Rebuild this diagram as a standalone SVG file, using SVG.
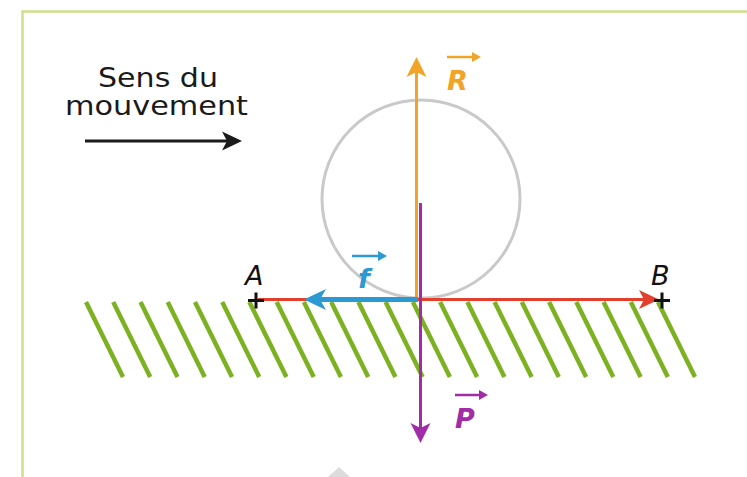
<svg xmlns="http://www.w3.org/2000/svg" width="747" height="477" viewBox="0 0 747 477">
<style>
.lbl{font-family:"DejaVu Sans","Liberation Sans",sans-serif;font-style:oblique;font-size:27px}
.hatch line{stroke:#7cb221;stroke-width:4.5}
.cap{font-family:"DejaVu Sans","Liberation Sans",sans-serif;font-size:27px;fill:#1a1a1a}
</style>
<rect width="747" height="477" fill="#ffffff"/>
<path d="M22.5 477 V11.5 H747" fill="none" stroke="#cfe08a" stroke-width="2.5"/>
<g id="hatching" class="hatch"><line x1="86" y1="302" x2="123" y2="377"/><line x1="113.2" y1="302" x2="150.2" y2="377"/><line x1="140.5" y1="302" x2="177.5" y2="377"/><line x1="167.7" y1="302" x2="204.7" y2="377"/><line x1="195" y1="302" x2="232" y2="377"/><line x1="222.2" y1="302" x2="259.2" y2="377"/><line x1="249.4" y1="302" x2="286.4" y2="377"/><line x1="276.7" y1="302" x2="313.7" y2="377"/><line x1="303.9" y1="302" x2="340.9" y2="377"/><line x1="331.2" y1="302" x2="368.2" y2="377"/><line x1="358.4" y1="302" x2="395.4" y2="377"/><line x1="385.6" y1="302" x2="422.6" y2="377"/><line x1="412.9" y1="302" x2="449.9" y2="377"/><line x1="440.1" y1="302" x2="477.1" y2="377"/><line x1="467.4" y1="302" x2="504.4" y2="377"/><line x1="494.6" y1="302" x2="531.6" y2="377"/><line x1="521.8" y1="302" x2="558.8" y2="377"/><line x1="549.1" y1="302" x2="586.1" y2="377"/><line x1="576.3" y1="302" x2="613.3" y2="377"/><line x1="603.6" y1="302" x2="640.6" y2="377"/><line x1="630.8" y1="302" x2="667.8" y2="377"/><line x1="658" y1="302" x2="695" y2="377"/></g>
<g id="wheel"><circle cx="421" cy="199" r="99" fill="none" stroke="#c9c9c9" stroke-width="3"/></g>
<g id="motion">
<text class="cap" x="98" y="87" textLength="120" lengthAdjust="spacingAndGlyphs">Sens du</text>
<text class="cap" x="65" y="115" textLength="183" lengthAdjust="spacingAndGlyphs">mouvement</text>
<line x1="85" y1="141" x2="230" y2="141" stroke="#1a1a1a" stroke-width="3"/>
<path d="M242 141 L222 131.5 L227 141 L222 150.5 Z" fill="#1a1a1a"/>
</g>
<g id="connectors">
<line x1="258" y1="299.5" x2="648" y2="299.5" stroke="#e2402c" stroke-width="3"/>
<path d="M659 299.5 L639 290 L644 299.5 L639 309 Z" fill="#e2402c"/>
<line x1="416.5" y1="70" x2="416.5" y2="299" stroke="#f2a427" stroke-width="3"/>
<path d="M416.5 57 L406.5 77 L416.5 72 L426.5 77 Z" fill="#f2a427"/>
<line x1="420.5" y1="203" x2="420.5" y2="430" stroke="#a22ba8" stroke-width="3"/>
<path d="M420.5 443 L410.5 423 L420.5 428 L430.5 423 Z" fill="#a22ba8"/>
<line x1="418" y1="299.5" x2="318" y2="299.5" stroke="#2b9ad2" stroke-width="5"/>
<path d="M304 299.5 L326 289 L320 299.5 L326 310 Z" fill="#2b9ad2"/>
</g>
<g id="A"><path d="M248 300.5 H264 M256 292.5 V308.5" stroke="#111" stroke-width="3"/><text class="lbl" x="245" y="285" fill="#111">A</text></g>
<g id="B"><path d="M654 300.5 H670 M662 292.5 V308.5" stroke="#111" stroke-width="3"/><text class="lbl" x="651" y="285" fill="#111">B</text></g>
<g id="R"><text class="lbl" x="447" y="90" fill="#f2a427" font-weight="bold">R</text><line x1="447" y1="57" x2="474" y2="57" stroke="#f2a427" stroke-width="2.5"/><path d="M481 57 L472 52 L472 62 Z" fill="#f2a427"/></g>
<g id="f"><text class="lbl" x="358" y="288" fill="#2b9ad2" font-weight="bold">f</text><line x1="352" y1="256" x2="380" y2="256" stroke="#2b9ad2" stroke-width="2.5"/><path d="M387 256 L378 251 L378 261 Z" fill="#2b9ad2"/></g>
<g id="P"><text class="lbl" x="455" y="428" fill="#a22ba8" font-weight="bold">P</text><line x1="455" y1="395" x2="481" y2="395" stroke="#a22ba8" stroke-width="2.5"/><path d="M488 395 L479 390 L479 400 Z" fill="#a22ba8"/></g>
<path d="M328 477 L339 467 L350 477 Z" fill="#dcdcdc"/>
</svg>
